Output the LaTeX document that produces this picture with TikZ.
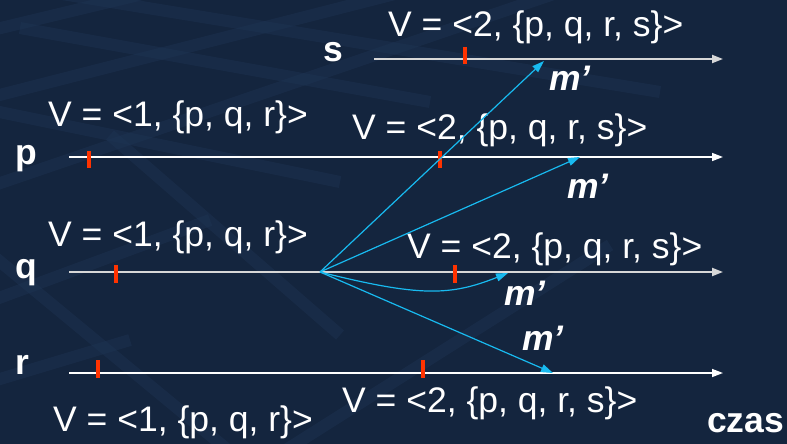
\documentclass[tikz,border=0pt]{standalone}
\usepackage{fontspec}
\setmainfont{Liberation Sans}
\usetikzlibrary{arrows.meta}
\definecolor{bgnavy}{RGB}{20,37,62}
\definecolor{bgband}{RGB}{30,52,84}
\definecolor{tickred}{RGB}{255,51,0}
\definecolor{msgblue}{RGB}{24,186,240}
\definecolor{linegray}{RGB}{215,215,215}
\tikzset{
  vlabel/.style={anchor=base west,inner sep=0pt,text=white,font=\fontsize{35.5}{40}\selectfont},
  proc/.style={anchor=base west,inner sep=0pt,text=white,font=\fontsize{35.5}{40}\selectfont\bfseries},
  mlabel/.style={anchor=base west,inner sep=0pt,text=white,font=\fontsize{35.5}{40}\selectfont\bfseries\itshape},
  timeline/.style={draw=white,line width=1.5pt,-{Triangle[length=11pt,width=8pt]}},
  timelinegray/.style={draw=linegray,line width=2pt,-{Triangle[length=11pt,width=8pt]}},
  tickmark/.style={draw=tickred,line width=4pt},
  msg/.style={draw=msgblue,line width=1.2pt,-{Triangle[length=12pt,width=8pt]}},
  band/.style={draw=bgband,line width=12pt,opacity=0.45}
}
\begin{document}
\begin{tikzpicture}[x=1pt,y=-1pt]
\useasboundingbox (0,0) rectangle (787,444);
\fill[bgnavy] (0,0) rectangle (787,444);
\begin{scope}
\clip (0,0) rectangle (787,444);
\draw[band] (-20,33) -- (180,-15);
\draw[band] (-20,100) -- (430,-15);
\draw[band] (-20,190) -- (580,-15);
\draw[band] (20,28) -- (430,102);
\draw[band] (50,-8) -- (660,92);
\draw[band] (-20,108) -- (340,182);
\draw[band] (-20,305) -- (210,220);
\draw[band] (-20,245) -- (240,460);
\draw[band] (110,135) -- (340,335);
\draw[band] (270,460) -- (610,245);
\draw[band] (-20,385) -- (130,340);
\end{scope}

% process names
\node[proc] (ns) at (323,62) {s};
\node[proc] (np) at (15,164) {p};
\node[proc] (nq) at (15,278) {q};
\node[proc] (nr) at (15,374) {r};
\node[proc] (czas) at (707,432) {czas};

% timelines
\coordinate (s0) at (374,59);  \coordinate (s1) at (723,59);
\coordinate (p0) at (69,157);  \coordinate (p1) at (723,157);
\coordinate (q0) at (69,272);  \coordinate (q1) at (723,272);
\coordinate (r0) at (69,373);  \coordinate (r1) at (723,373);
\draw[timelinegray] (s0) -- (s1);
\draw[timeline] (p0) -- (p1);
\draw[timelinegray] (q0) -- (q1);
\draw[timeline] (r0) -- (r1);

% ticks
\draw[tickmark] (465,47) -- (465,64);
\draw[tickmark] (89,151) -- (89,168);
\draw[tickmark] (440,151) -- (440,168);
\draw[tickmark] (116,265) -- (116,283);
\draw[tickmark] (455,265) -- (455,283);
\draw[tickmark] (98,360) -- (98,378);
\draw[tickmark] (423,360) -- (423,378);

% vector labels
\node[vlabel] (v2s) at (388,37) {V = <2, \{p, q, r, s\}>};
\node[vlabel] (v1p) at (48,126) {V = <1, \{p, q, r\}>};
\node[vlabel] (v2p) at (352,139) {V = <2, \{p, q, r, s\}>};
\node[vlabel] (v1q) at (48,246) {V = <1, \{p, q, r\}>};
\node[vlabel] (v2q) at (407,258) {V = <2, \{p, q, r, s\}>};
\node[vlabel] (v2r) at (342,412) {V = <2, \{p, q, r, s\}>};
\node[vlabel] (v1r) at (53,431) {V = <1, \{p, q, r\}>};

% messages
\coordinate (src) at (320,272);
\coordinate (ts) at (544,61);
\coordinate (tp) at (580,157);
\coordinate (tq) at (508,273);
\coordinate (tr) at (553,373);
\draw[msg] (src) -- (ts);
\draw[msg] (src) -- (tp);
\draw[msg] (src) .. controls (420,297) and (450,296) .. (tq);
\draw[msg] (src) -- (tr);

% m' labels
\node[mlabel] (m1) at (549,90) {m’};
\node[mlabel] (m2) at (567,198) {m’};
\node[mlabel] (m3) at (504,305) {m’};
\node[mlabel] (m4) at (522,350) {m’};
\end{tikzpicture}
\end{document}
